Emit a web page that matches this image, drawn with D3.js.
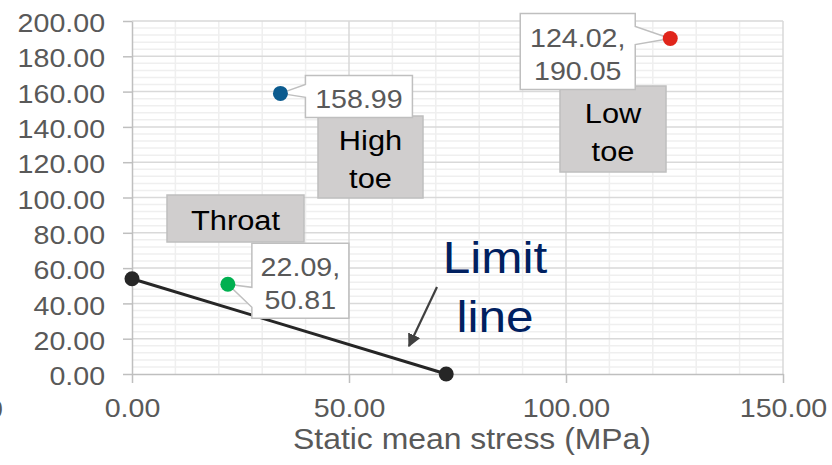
<!DOCTYPE html>
<html>
<head>
<meta charset="utf-8">
<script src="https://cdn.jsdelivr.net/npm/d3@7"></script>
<style>
  body { margin: 0; background: #fff; }
  svg { display: block; font-family: "Liberation Sans", Arial, sans-serif; }
</style>
</head>
<body>
<svg id="chart" width="832" height="465"></svg>
<script>
// data
var pointNames = ["Throat", "High toe", "Low toe"];
var pointX = [22.09, 34.2, 124.02];
var pointY = [50.81, 158.99, 190.05];
var pointShowX = [true, false, true];   // which labels show "x, y" vs "y"
var limitX = [0, 72.4];
var limitY = [54.0, 0];
var xTicks = [0, 50, 100, 150];
var yTicks = [0, 20, 40, 60, 80, 100, 120, 140, 160, 180, 200];
var xTitle = "Static mean stress (MPa)";

// styles
var pointColors = ["#00b050", "#0b5b8f", "#e0251b"];
var SX = 1.1; // text in the picture is a bit stretched horizontally

var svg = d3.select("#chart");
var x = d3.scaleLinear().domain([0, 150]).range([132, 783]);
var y = d3.scaleLinear().domain([0, 200]).range([374, 21]);
var fmt = d3.format(".2f");

// minor grid
var g = svg.append("g");
g.selectAll(".hminor").data(d3.range(0, 201, 4).filter(d => d % 20))
  .enter().append("line")
  .attr("x1", x(0)).attr("x2", x(150))
  .attr("y1", d => y(d)).attr("y2", d => y(d))
  .style("stroke", "#efefef").style("stroke-width", 1.5);
g.selectAll(".vminor").data(d3.range(0, 151, 10).filter(d => d % 50))
  .enter().append("line")
  .attr("y1", y(0)).attr("y2", y(200))
  .attr("x1", d => x(d)).attr("x2", d => x(d))
  .style("stroke", "#efefef").style("stroke-width", 1.5);
// major grid
g.selectAll(".hmajor").data(yTicks.slice(1))
  .enter().append("line")
  .attr("x1", x(0)).attr("x2", x(150))
  .attr("y1", d => y(d)).attr("y2", d => y(d))
  .style("stroke", "#d9d9d9").style("stroke-width", 1.5);
g.selectAll(".vmajor").data(xTicks.slice(1))
  .enter().append("line")
  .attr("y1", y(0)).attr("y2", y(200))
  .attr("x1", d => x(d)).attr("x2", d => x(d))
  .style("stroke", "#d9d9d9").style("stroke-width", 1.5);

// axes
var yAxis = svg.append("g")
  .attr("transform", "translate(" + x(0) + ",0)")
  .call(d3.axisLeft(y).tickValues(yTicks).tickFormat(fmt).tickSize(9).tickSizeOuter(0).tickPadding(15.5));
var xAxis = svg.append("g")
  .attr("transform", "translate(0," + y(0) + ")")
  .call(d3.axisBottom(x).tickValues(xTicks).tickFormat(fmt).tickSize(9).tickSizeOuter(0).tickPadding(16));
[yAxis, xAxis].forEach(function(a) {
  a.select(".domain").style("stroke", "#bfbfbf").style("stroke-width", 1.5);
  a.selectAll(".tick line").style("stroke", "#bfbfbf").style("stroke-width", 1.5);
  a.selectAll("text")
    .style("font-size", "26px")
    .style("fill", "#595959")
    .style("font-family", "'Liberation Sans', Arial, sans-serif")
    .attr("transform", "scale(" + SX + ",1)");
});
yAxis.selectAll("text").attr("dy", "0.41em");

function stext(sel, tx, ty, str, size, color) {
  return sel.append("text")
    .attr("transform", "translate(" + tx + "," + ty + ") scale(" + SX + ",1)")
    .attr("text-anchor", "middle")
    .style("font-size", size + "px")
    .style("fill", color)
    .text(str);
}

// clipped label at far left
svg.append("text")
  .attr("transform", "translate(3,418) scale(" + SX + ",1)")
  .attr("text-anchor", "end")
  .style("font-size", "26px").style("fill", "#595959")
  .text("0");

// axis title
stext(svg, 472, 449, xTitle, 29, "#595959");

// limit line
svg.append("path")
  .datum(d3.zip(limitX, limitY))
  .attr("d", d3.line().x(d => x(d[0])).y(d => y(d[1])))
  .style("fill", "none").style("stroke", "#262626").style("stroke-width", 3);
svg.selectAll(".lim").data(d3.zip(limitX, limitY))
  .enter().append("circle")
  .attr("cx", d => x(d[0])).attr("cy", d => y(d[1])).attr("r", 7.5)
  .style("fill", "#262626");

// points
var pts = d3.range(pointX.length).map(function(i) {
  return {name: pointNames[i], x: pointX[i], y: pointY[i], showX: pointShowX[i], color: pointColors[i]};
});

// callout geometry relative to the point: box offset/size, wedge side, wedge base
var callout = {
  "Throat":   {dx: 24, dy: -41, w: 97, h: 75, side: "left", a: 3, b: 23},
  "High toe": {dx: 25, dy: -18, w: 107, h: 42, side: "left", a: -9, b: 4},
  "Low toe":  {dx: -150, dy: -25, w: 115, h: 76, side: "right", a: -12, b: 6}
};
// name boxes
var nameBox = {
  "Throat":   {x: 167, y: 195, w: 137, h: 47, lines: ["Throat"], base: 35},
  "High toe": {x: 318, y: 116, w: 105, h: 82, lines: ["High", "toe"], base: 34},
  "Low toe":  {x: 560, y: 86, w: 106, h: 86, lines: ["Low", "toe"], base: 37}
};

pts.forEach(function(d) {
  var nb = nameBox[d.name];
  svg.append("rect")
    .attr("x", nb.x).attr("y", nb.y).attr("width", nb.w).attr("height", nb.h)
    .style("fill", "#d0cece").style("stroke", "#bfbfbf").style("stroke-width", 1.5);
  nb.lines.forEach(function(l, i) {
    stext(svg, nb.x + nb.w / 2, nb.y + nb.base + i * 37.5, l, 28, "#000");
  });
});

pts.forEach(function(d) {
  var px = x(d.x), py = y(d.y), c = callout[d.name];
  var x0 = px + c.dx, y0 = py + c.dy, x1 = x0 + c.w, y1 = y0 + c.h;
  var p;
  if (c.side === "left") {
    p = "M" + x0 + "," + y0 + "H" + x1 + "V" + y1 + "H" + x0 + "V" + (py + c.b) +
        "L" + px + "," + py + "L" + x0 + "," + (py + c.a) + "Z";
  } else {
    p = "M" + x0 + "," + y0 + "H" + x1 + "V" + (py + c.a) + "L" + px + "," + py +
        "L" + x1 + "," + (py + c.b) + "V" + y1 + "H" + x0 + "Z";
  }
  svg.append("path").attr("d", p)
    .style("fill", "#fff").style("stroke", "#bfbfbf").style("stroke-width", 1.5);
  var lines = d.showX ? [fmt(d.x) + ",", fmt(d.y)] : [fmt(d.y)];
  lines.forEach(function(l, i) {
    stext(svg, (x0 + x1) / 2, y0 + 33 + i * 33, l, 26, "#595959");
  });
});

svg.selectAll(".pt").data(pts)
  .enter().append("circle")
  .attr("cx", d => x(d.x)).attr("cy", d => y(d.y)).attr("r", 7.5)
  .style("fill", d => d.color);

// limit line annotation
var defs = svg.append("defs");
defs.append("marker")
  .attr("id", "arrow").attr("viewBox", "0 0 10 10")
  .attr("refX", 9).attr("refY", 5)
  .attr("markerWidth", 6).attr("markerHeight", 6)
  .attr("orient", "auto")
  .append("path").attr("d", "M0,0L10,5L0,10Z").style("fill", "#404040");
svg.append("line")
  .attr("x1", 437).attr("y1", 287).attr("x2", 409).attr("y2", 346)
  .attr("marker-end", "url(#arrow)")
  .style("stroke", "#404040").style("stroke-width", 2.2);
stext(svg, 495, 273, "Limit", 45, "#002060");
stext(svg, 495, 332, "line", 45, "#002060");
</script>
</body>
</html>
